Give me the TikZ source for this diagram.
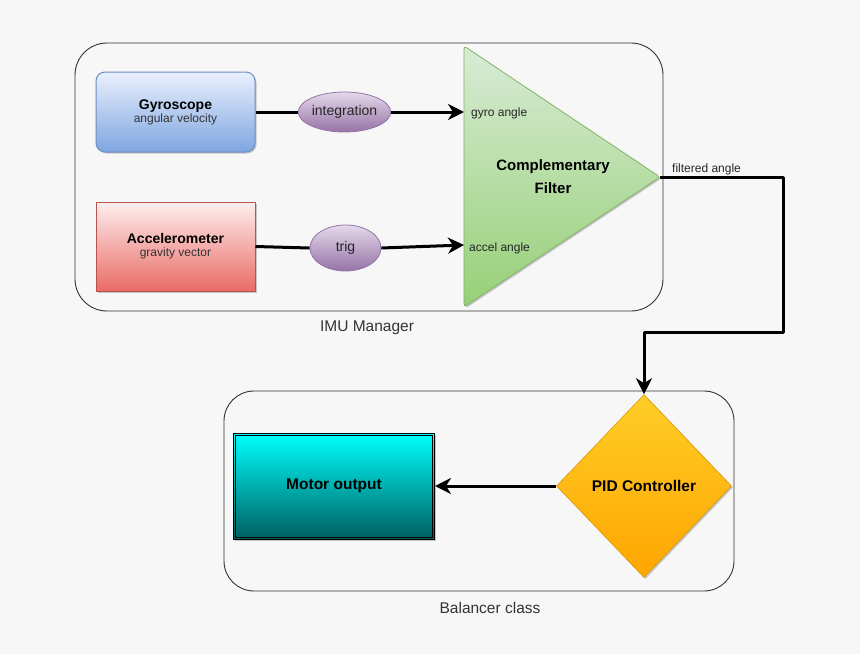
\documentclass[tikz,border=0pt]{standalone}
\usepackage{fontspec}
\setmainfont{Liberation Sans}
\usetikzlibrary{shapes.geometric,arrows.meta,calc,shadows}
\definecolor{bgcol}{HTML}{F7F7F7}
\definecolor{framecol}{HTML}{333333}
\definecolor{gyrotop}{HTML}{EAF0FC}
\definecolor{gyrobot}{HTML}{7EA6E0}
\definecolor{gyroline}{HTML}{6C8EBF}
\definecolor{acceltop}{HTML}{FDEEEE}
\definecolor{accelbot}{HTML}{EA6B66}
\definecolor{accelline}{HTML}{B85450}
\definecolor{optop}{HTML}{E4D9EA}
\definecolor{opbot}{HTML}{9673A6}
\definecolor{filtertop}{HTML}{D8EBD6}
\definecolor{filterbot}{HTML}{97D077}
\definecolor{filterline}{HTML}{82B366}
\definecolor{motortop}{HTML}{00FFFF}
\definecolor{motorbot}{HTML}{005F5F}
\definecolor{pidtop}{HTML}{FFCD28}
\definecolor{pidbot}{HTML}{FFA500}
\definecolor{pidline}{HTML}{D79B00}

\tikzset{
  softshadow/.style={drop shadow={shadow xshift=1.5pt,shadow yshift=-1.5pt,opacity=0.2,fill=black}},
  sensor/.style={draw,line width=1pt,minimum width=159pt,minimum height=80pt,align=center,softshadow},
  opnode/.style={ellipse,draw=opbot,line width=0.8pt,top color=optop,bottom color=opbot,
    font=\fontsize{14}{16}\selectfont,text=black!85,inner sep=0pt},
  container/.style={draw=framecol,line width=0.9pt,rounded corners=32pt},
  caption/.style={text=framecol,font=\fontsize{15.5}{18}\selectfont},
  portlabel/.style={anchor=west,font=\fontsize{12}{14}\selectfont,text=black!85,inner sep=0pt},
  conn/.style={line width=3pt,-{Stealth[length=16pt,width=16pt,inset=5pt]}},
}

\begin{document}
\begin{tikzpicture}[x=1pt,y=-1pt,line join=round]
\fill[bgcol] (0,0) rectangle (860,654);
\useasboundingbox (0,0) rectangle (860,654);
					%CONTAINERS
					\draw[container] (75,43) rectangle (663,311);
					\node[caption] (imucap) at (367,328) {IMU Manager};
					\draw[container,rounded corners=30pt] (224,391) rectangle (734,591);
					\node[caption] (balcap) at (490,608) {Balancer class};
					%SENSORS
					\node[sensor,rounded corners=9pt,draw=gyroline,top color=gyrotop,bottom color=gyrobot] (gyro) at (175.5,112)
					  {\fontsize{14}{14}\selectfont\bfseries Gyroscope\\[1pt]\fontsize{12}{14}\selectfont\color{black!80}angular velocity};
					\node[sensor,minimum height=89pt,draw=accelline,top color=acceltop,bottom color=accelbot] (accel) at (175.5,246.5)
					  {\fontsize{14}{14}\selectfont\bfseries Accelerometer\\[1pt]\fontsize{12}{14}\selectfont\color{black!80}gravity vector};
					\node[opnode,minimum width=81pt,minimum height=40pt] (integ) at (344.5,112) {integration};
					\node[opnode,minimum width=71pt,minimum height=46pt] (trig) at (345.5,248) {trig};
					%FILTER
					\shade[softshadow,draw=filterline,line width=0.8pt,rounded corners=3pt,top color=filtertop,bottom color=filterbot]
					  (464,46) coordinate(ftop) -- (660,177) coordinate(fout) -- (464,307) coordinate(fbot) -- cycle;
					\coordinate (fin1) at (464,112);
					\coordinate (fin2) at (464,245);
					\node[align=center,font=\fontsize{15}{23}\selectfont\bfseries] (filter) at (553,177) {Complementary\\Filter};
					\node[portlabel] (gyrolab) at (471,113) {gyro angle};
					\node[portlabel] (accellab) at (469,248) {accel angle};
					%BALANCER
					\node[draw=pidline,line width=0.6pt,diamond,aspect=0.95,minimum width=175pt,minimum height=183pt,inner sep=0pt,
					  top color=pidtop,bottom color=pidbot,softshadow,font=\fontsize{15.5}{18}\selectfont\bfseries] (pid) at (644,486) {PID Controller};
					\node[draw=black,line width=1pt,minimum width=201pt,minimum height=106pt,top color=motortop,bottom color=motorbot,
					  softshadow,font=\fontsize{15.5}{18}\selectfont\bfseries] (motor) at (334,486) {Motor output};
					\draw[black,line width=0.8pt] ($(motor.north west)+(2.5,2.5)$) rectangle ($(motor.south east)+(-2.5,-2.5)$);
					%CONNECTORS
					\draw[line width=3pt] (gyro.east) -- (integ.west);
					\draw[conn] (integ.east) -- (fin1);
					\draw[line width=3pt] (accel.east) -- (trig.west);
					\draw[conn] (trig.east) -- (fin2);
					\draw[conn] (fout) -- (783,177) -- (783,332) -- (644,332) -- (pid.north);
					\node[portlabel,anchor=south west,inner sep=1pt] (outlab) at (671,176) {filtered angle};
					\draw[conn] (pid.west) -- (motor.east);
\end{tikzpicture}
\end{document}
